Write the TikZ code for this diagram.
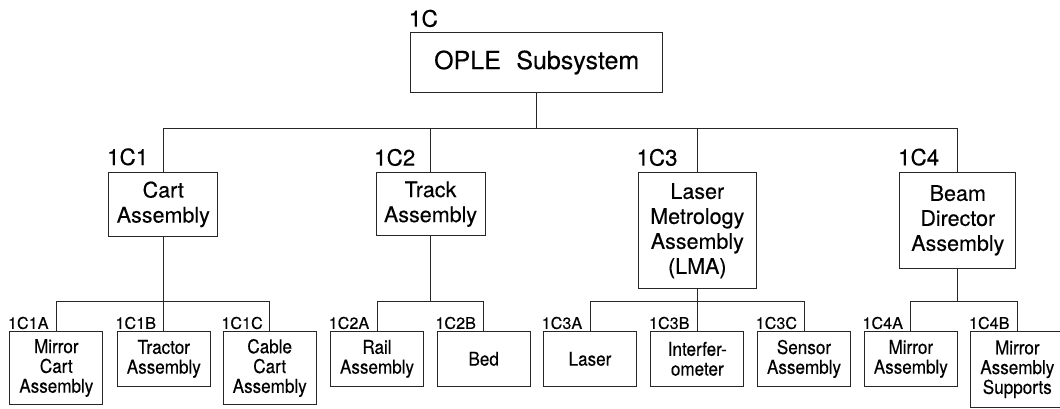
\documentclass[tikz,border=0pt]{standalone}
\usepackage{fontspec}
\setmainfont{TeX Gyre Heros}[FakeBold=0.25]
\newfontfamily\leaffont{TeX Gyre Heros}[FakeStretch=0.9, FakeBold=0.25]
\begin{document}
\begin{tikzpicture}[x=1pt,y=-1pt,
  wire/.style={line width=1pt, draw=black!85},
  box/.style={draw=black!85, line width=1pt, rectangle, inner sep=0pt, align=center, anchor=north},
  rootbox/.style={box, minimum width=252pt, minimum height=59.4pt, font=\fontsize{25}{30}\selectfont},
  midbox/.style={box, font=\fontsize{21.5}{25}\selectfont},
  leafbox/.style={box, minimum width=93pt, font=\leaffont\fontsize{19}{19.8}\selectfont},
  leafshort/.style={leafbox, minimum height=55.3pt},
  leaftall/.style={leafbox, minimum height=73.6pt},
  tag/.style={anchor=base west, inner sep=0pt, xshift=-1.5pt},
  toptag/.style={tag, yshift=5.6pt, font=\fontsize{22.7}{26}\selectfont},
  midtag/.style={tag, yshift=6.7pt, font=\fontsize{22.4}{26}\selectfont},
  leaftag/.style={tag, yshift=1.8pt, font=\fontsize{16.2}{18}\selectfont}
]
\useasboundingbox (0,0) rectangle (1060,408);

% top level
\node[rootbox] (root) at (536.7,32.3) {OPLE\hspace{0.62em}Subsystem};
\node[toptag] (t0) at (root.north west) {1C};

% second level
\node[midbox, minimum width=108.7pt, minimum height=64.3pt] (c1) at (163.3,171.7) {Cart\\Assembly};
\node[midbox, minimum width=109pt, minimum height=62.7pt] (c2) at (430.5,172.3) {Track\\Assembly};
\node[midbox, minimum width=118pt, minimum height=116pt] (c3) at (697.3,172.3) {Laser\\Metrology\\Assembly\\(LMA)};
\node[midbox, minimum width=115.7pt, minimum height=95.7pt] (c4) at (957.8,172) {Beam\\Director\\Assembly};
\node[midtag] (t1) at (c1.north west) {1C1};
\node[midtag] (t2) at (c2.north west) {1C2};
\node[midtag] (t3) at (c3.north west) {1C3};
\node[midtag] (t4) at (c4.north west) {1C4};

% third level
\node[leaftall]  (l1a) at (56.3,330.7)  {Mirror\\Cart\\Assembly};
\node[leafshort] (l1b) at (163.8,330.7) {Tractor\\Assembly};
\node[leaftall]  (l1c) at (269.7,330.7) {Cable\\Cart\\Assembly};
\node[leafshort] (l2a) at (377,330.7)   {Rail\\Assembly};
\node[leafshort] (l2b) at (483.7,330.7) {Bed};
\node[leafshort] (l3a) at (590,330.7)   {Laser};
\node[leafshort] (l3b) at (697.3,330.7) {Interfer-\\ometer};
\node[leafshort] (l3c) at (804,330.7)   {Sensor\\Assembly};
\node[leafshort] (l4a) at (910.8,330.7) {Mirror\\Assembly};
\node[leaftall, minimum height=76pt] (l4b) at (1017.3,330.7) {Mirror\\Assembly\\Supports};

\node[leaftag] (t1a) at (l1a.north west) {1C1A};
\node[leaftag] (t1b) at (l1b.north west) {1C1B};
\node[leaftag] (t1c) at (l1c.north west) {1C1C};
\node[leaftag] (t2a) at (l2a.north west) {1C2A};
\node[leaftag] (t2b) at (l2b.north west) {1C2B};
\node[leaftag] (t3a) at (l3a.north west) {1C3A};
\node[leaftag] (t3b) at (l3b.north west) {1C3B};
\node[leaftag] (t3c) at (l3c.north west) {1C3C};
\node[leaftag] (t4a) at (l4a.north west) {1C4A};
\node[leaftag] (t4b) at (l4b.north west) {1C4B};

% connectors: top bus
\coordinate (busTop) at (0,128);
\draw[wire] (root.south) -- (root.south |- busTop);
\draw[wire] (c1.north) |- (c4.north |- busTop) -- (c4.north);
\draw[wire] (c2.north) -- (c2.north |- busTop);
\draw[wire] (c3.north) -- (c3.north |- busTop);

% connectors: lower buses
\coordinate (busLow) at (0,301.2);
\draw[wire] (c1.south) -- (c1.south |- busLow);
\draw[wire] (l1a.north) |- (l1c.north |- busLow) -- (l1c.north);
\draw[wire] (l1b.north) -- (l1b.north |- busLow);

\draw[wire] (c2.south) -- (c2.south |- busLow);
\draw[wire] (l2a.north) |- (l2b.north |- busLow) -- (l2b.north);

\draw[wire] (c3.south) -- (c3.south |- busLow);
\draw[wire] (l3a.north) |- (l3c.north |- busLow) -- (l3c.north);
\draw[wire] (l3b.north) -- (l3b.north |- busLow);

\draw[wire] (c4.south) -- (c4.south |- busLow);
\draw[wire] (l4a.north) |- (l4b.north |- busLow) -- (l4b.north);
\end{tikzpicture}
\end{document}
